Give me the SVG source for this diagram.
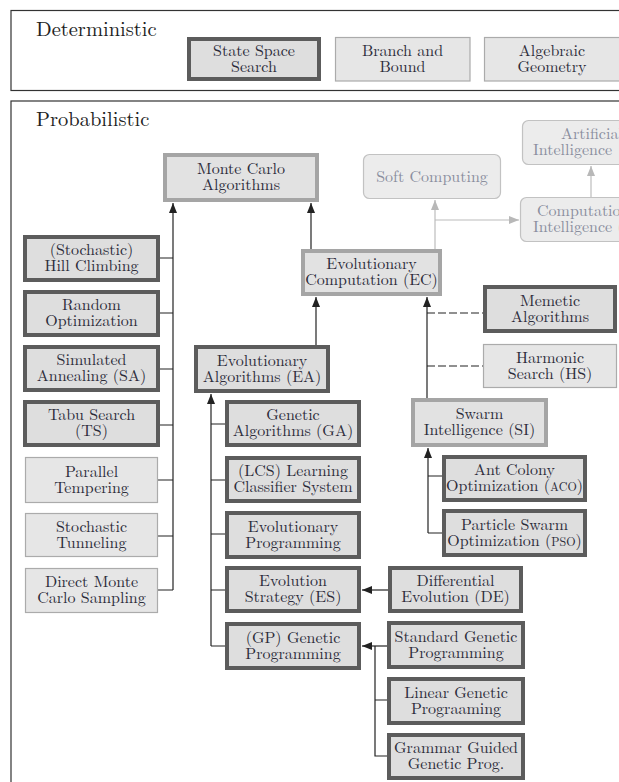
<svg xmlns="http://www.w3.org/2000/svg" width="619" height="782" viewBox="0 0 619 782">
<defs>
<marker id="ah" markerUnits="userSpaceOnUse" markerWidth="10" markerHeight="8" refX="10" refY="4" orient="auto"><path d="M0,0 L10,4 L0,8 z" fill="#222"/></marker>
<marker id="ahl" markerUnits="userSpaceOnUse" markerWidth="10" markerHeight="8" refX="10" refY="4" orient="auto"><path d="M0,0 L10,4 L0,8 z" fill="#b8b8b8"/></marker>
<style>
text{font-family:'Latin Modern Roman','Liberation Serif',serif;font-size:16px;fill:#2c2c3a;text-anchor:middle}
.title{font-size:20.5px;text-anchor:start;fill:#222}
.dk{fill:#dedede;stroke:#5c5c5c;stroke-width:4}
.md{fill:#e2e2e2;stroke:#a5a5a5;stroke-width:4}
.tn{fill:#e6e6e6;stroke:#ababab;stroke-width:1.2}
.rd{fill:#ececec;stroke:#c2c2c2;stroke-width:1.2}
.lt{fill:#8a8e9e}
.st{text-anchor:start}
.sc{font-size:12px}
.frame{fill:none;stroke:#333;stroke-width:1.2}
.ln{fill:none;stroke:#222;stroke-width:1.2}
.lnl{fill:none;stroke:#bcbcbc;stroke-width:1.2}
.ds{fill:none;stroke:#222;stroke-width:1.2;stroke-dasharray:8 3}
</style>
</defs>
<rect width="619" height="782" fill="#fff"/>

<g id="deterministic">
<rect class="frame" x="11" y="10.5" width="700" height="80"/>
<text class="title" x="36" y="36">Deterministic</text>
</g>
<g id="probabilistic">
<rect class="frame" x="11" y="101" width="700" height="800"/>
<text class="title" x="36" y="126">Probabilistic</text>
</g>

<g id="connectors">
<path class="ln" d="M173,590 V203" marker-end="url(#ah)"/>
<path class="ln" d="M160,258 H173 M160,313 H173 M160,369 H173 M160,425 H173 M158,480 H173 M158,536 H173 M158,590 H173"/>
<path class="ln" d="M311,249 V203" marker-end="url(#ah)"/>
<path class="ln" d="M316,345 V297" marker-end="url(#ah)"/>
<path class="ln" d="M211,646 V394" marker-end="url(#ah)"/>
<path class="ln" d="M211,424 H225 M211,480 H225 M211,534 H225 M211,590 H225 M211,646 H225"/>
<path class="ln" d="M388,590 H362" marker-end="url(#ah)"/>
<path class="ln" d="M387,646 H362" marker-end="url(#ah)"/>
<path class="ln" d="M375,646 V756 H387 M375,700 H387"/>
<path class="ln" d="M427,398 V297" marker-end="url(#ah)"/>
<path class="ds" d="M427,313 H483 M427,366 H483"/>
<path class="ln" d="M428,533 V448" marker-end="url(#ah)"/>
<path class="ln" d="M428,476 H442 M428,533 H442"/>
<path class="lnl" d="M435,249 V200" marker-end="url(#ahl)"/>
<path class="lnl" d="M435,220 H519" marker-end="url(#ahl)"/>
<path class="lnl" d="M591,197 V166" marker-end="url(#ahl)"/>
</g>

<g id="n-sss"><rect class="dk" x="189" y="39" width="130" height="40"/><text x="254" y="55.5"><tspan x="254">State Space</tspan><tspan x="254" dy="16">Search</tspan></text></g>
<g id="n-bb"><rect class="tn" x="335.5" y="37.5" width="134.5" height="43.5"/><text x="402.5" y="55.5"><tspan x="402.5">Branch and</tspan><tspan x="402.5" dy="16">Bound</tspan></text></g>
<g id="n-ag"><rect class="tn" x="484.5" y="37.5" width="140" height="43.5"/><text x="552" y="55.5"><tspan x="552">Algebraic</tspan><tspan x="552" dy="16">Geometry</tspan></text></g>

<g id="n-mc"><rect class="md" x="165" y="155" width="152" height="45"/><text x="241" y="174"><tspan x="241">Monte Carlo</tspan><tspan x="241" dy="16">Algorithms</tspan></text></g>
<g id="n-hc"><rect class="dk" x="25" y="237" width="133" height="43"/><text x="91.5" y="255"><tspan x="91.5">(Stochastic)</tspan><tspan x="91.5" dy="16">Hill Climbing</tspan></text></g>
<g id="n-ro"><rect class="dk" x="25" y="292" width="133" height="43"/><text x="91.5" y="310"><tspan x="91.5">Random</tspan><tspan x="91.5" dy="16">Optimization</tspan></text></g>
<g id="n-sa"><rect class="dk" x="25" y="347" width="133" height="43"/><text x="91.5" y="365"><tspan x="91.5">Simulated</tspan><tspan x="91.5" dy="16">Annealing (SA)</tspan></text></g>
<g id="n-ts"><rect class="dk" x="25" y="402" width="133" height="43"/><text x="91.5" y="420"><tspan x="91.5">Tabu Search</tspan><tspan x="91.5" dy="16">(TS)</tspan></text></g>
<g id="n-pt"><rect class="tn" x="25.5" y="457.5" width="132" height="45"/><text x="91.5" y="476.5"><tspan x="91.5">Parallel</tspan><tspan x="91.5" dy="16">Tempering</tspan></text></g>
<g id="n-st"><rect class="tn" x="25.5" y="513.5" width="132" height="43"/><text x="91.5" y="531.5"><tspan x="91.5">Stochastic</tspan><tspan x="91.5" dy="16">Tunneling</tspan></text></g>
<g id="n-dmcs"><rect class="tn" x="25.5" y="568.5" width="132" height="44"/><text x="91.5" y="587"><tspan x="91.5">Direct Monte</tspan><tspan x="91.5" dy="16">Carlo Sampling</tspan></text></g>

<g id="n-ec"><rect class="md" x="303" y="251" width="137" height="43"/><text x="371.5" y="269"><tspan x="371.5">Evolutionary</tspan><tspan x="371.5" dy="16">Computation (EC)</tspan></text></g>
<g id="n-ea"><rect class="dk" x="196" y="347" width="132" height="44"/><text x="262" y="365.5"><tspan x="262">Evolutionary</tspan><tspan x="262" dy="16">Algorithms (EA)</tspan></text></g>
<g id="n-ga"><rect class="dk" x="227" y="402" width="132" height="43"/><text x="293" y="420"><tspan x="293">Genetic</tspan><tspan x="293" dy="16">Algorithms (GA)</tspan></text></g>
<g id="n-lcs"><rect class="dk" x="227" y="458" width="132" height="43"/><text x="293" y="476"><tspan x="293">(LCS) Learning</tspan><tspan x="293" dy="16">Classifier System</tspan></text></g>
<g id="n-ep"><rect class="dk" x="227" y="513" width="132" height="44"/><text x="293" y="531.5"><tspan x="293">Evolutionary</tspan><tspan x="293" dy="16">Programming</tspan></text></g>
<g id="n-es"><rect class="dk" x="227" y="568" width="132" height="43"/><text x="293" y="586"><tspan x="293">Evolution</tspan><tspan x="293" dy="16">Strategy (ES)</tspan></text></g>
<g id="n-gp"><rect class="dk" x="227" y="624" width="132" height="44"/><text x="293" y="642.5"><tspan x="293">(GP) Genetic</tspan><tspan x="293" dy="16">Programming</tspan></text></g>
<g id="n-de"><rect class="dk" x="390" y="568" width="131" height="43"/><text x="455.5" y="586"><tspan x="455.5">Differential</tspan><tspan x="455.5" dy="16">Evolution (DE)</tspan></text></g>
<g id="n-sgp"><rect class="dk" x="389" y="623" width="134" height="44"/><text x="456" y="641.5"><tspan x="456">Standard Genetic</tspan><tspan x="456" dy="16">Programming</tspan></text></g>
<g id="n-lgp"><rect class="dk" x="389" y="679" width="134" height="44"/><text x="456" y="697.5"><tspan x="456">Linear Genetic</tspan><tspan x="456" dy="16">Prograaming</tspan></text></g>
<g id="n-gggp"><rect class="dk" x="389" y="735" width="134" height="43"/><text x="456" y="753"><tspan x="456">Grammar Guided</tspan><tspan x="456" dy="16">Genetic Prog.</tspan></text></g>

<g id="n-ma"><rect class="dk" x="485" y="287" width="130" height="44"/><text x="550" y="305.5"><tspan x="550">Memetic</tspan><tspan x="550" dy="16">Algorithms</tspan></text></g>
<g id="n-hs"><rect class="tn" x="483.5" y="344.5" width="133" height="43"/><text x="550" y="362.5"><tspan x="550">Harmonic</tspan><tspan x="550" dy="16">Search (HS)</tspan></text></g>
<g id="n-si"><rect class="md" x="413" y="400" width="133" height="45"/><text x="479.5" y="419"><tspan x="479.5">Swarm</tspan><tspan x="479.5" dy="16">Intelligence (SI)</tspan></text></g>
<g id="n-aco"><rect class="dk" x="444" y="457" width="141" height="43"/><text x="514.5" y="475"><tspan x="514.5">Ant Colony</tspan><tspan x="514.5" dy="16">Optimization (<tspan class="sc">ACO</tspan>)</tspan></text></g>
<g id="n-pso"><rect class="dk" x="444" y="511" width="141" height="44"/><text x="514.5" y="529.5"><tspan x="514.5">Particle Swarm</tspan><tspan x="514.5" dy="16">Optimization (<tspan class="sc">PSO</tspan>)</tspan></text></g>

<g id="n-sc"><rect class="rd" x="363.5" y="154.5" width="137" height="44" rx="6"/><text class="lt" x="432" y="182">Soft Computing</text></g>
<g id="n-ai"><rect class="rd" x="522.5" y="120.5" width="140" height="44" rx="6"/><text class="lt st" x="561" y="139"><tspan x="561">Artificial</tspan><tspan x="533" dy="16">Intelligence</tspan></text></g>
<g id="n-ci"><rect class="rd" x="520.5" y="197.5" width="140" height="44" rx="6"/><text class="lt st" x="537" y="216"><tspan x="537">Computational</tspan><tspan x="533" dy="16">Intelligence (CI)</tspan></text></g>
</svg>
